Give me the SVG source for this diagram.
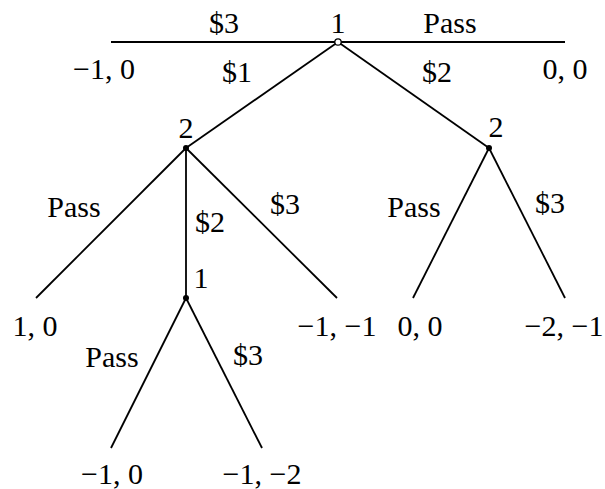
<svg xmlns="http://www.w3.org/2000/svg" width="605" height="489" viewBox="0 0 605 489">
<style>
.e{stroke:#000;stroke-width:1.8;fill:none;stroke-linecap:butt}
text{font-family:"Liberation Serif","Times New Roman",serif;font-size:30px;fill:#000;text-anchor:middle}
</style>
<rect width="605" height="489" fill="#fff"/>
<g id="connectors">
<line class="e" x1="111" y1="42" x2="565" y2="42"/>
<line class="e" x1="338" y1="42" x2="186" y2="148"/>
<line class="e" x1="338" y1="42" x2="489" y2="148"/>
<line class="e" x1="186" y1="148" x2="36" y2="298"/>
<line class="e" x1="186" y1="148" x2="186" y2="298"/>
<line class="e" x1="186" y1="148" x2="337" y2="298"/>
<line class="e" x1="489" y1="148" x2="413" y2="298"/>
<line class="e" x1="489" y1="148" x2="565" y2="298"/>
<line class="e" x1="186" y1="298" x2="111" y2="448"/>
<line class="e" x1="186" y1="298" x2="262" y2="448"/>
</g>
<g id="edge-labels">
<text x="224" y="33">$3</text>
<text x="450" y="33">Pass</text>
<text x="237" y="82">$1</text>
<text x="437" y="82">$2</text>
<text x="74" y="217">Pass</text>
<text x="210" y="232">$2</text>
<text x="285" y="214">$3</text>
<text x="414" y="217">Pass</text>
<text x="550" y="213">$3</text>
<text x="112" y="367">Pass</text>
<text x="248" y="365">$3</text>
</g>
<g id="root">
<circle cx="338" cy="42" r="3.2" fill="#fff" stroke="#000" stroke-width="1.3"/>
<text x="338" y="33">1</text>
</g>
<g id="node-2a">
<circle cx="186" cy="148" r="3" fill="#000"/>
<text x="186" y="138">2</text>
</g>
<g id="node-2b">
<circle cx="489" cy="148" r="3" fill="#000"/>
<text x="496" y="137">2</text>
</g>
<g id="node-1b">
<circle cx="186" cy="298" r="3" fill="#000"/>
<text x="201" y="288">1</text>
</g>
<g id="leaf-top-left"><text x="104" y="79">−1, 0</text></g>
<g id="leaf-top-right"><text x="565" y="79">0, 0</text></g>
<g id="leaf-a"><text x="35" y="336">1, 0</text></g>
<g id="leaf-b"><text x="337" y="336">−1, −1</text></g>
<g id="leaf-c"><text x="420" y="336">0, 0</text></g>
<g id="leaf-d"><text x="564" y="336">−2, −1</text></g>
<g id="leaf-e"><text x="112" y="484">−1, 0</text></g>
<g id="leaf-f"><text x="262" y="484">−1, −2</text></g>
</svg>
